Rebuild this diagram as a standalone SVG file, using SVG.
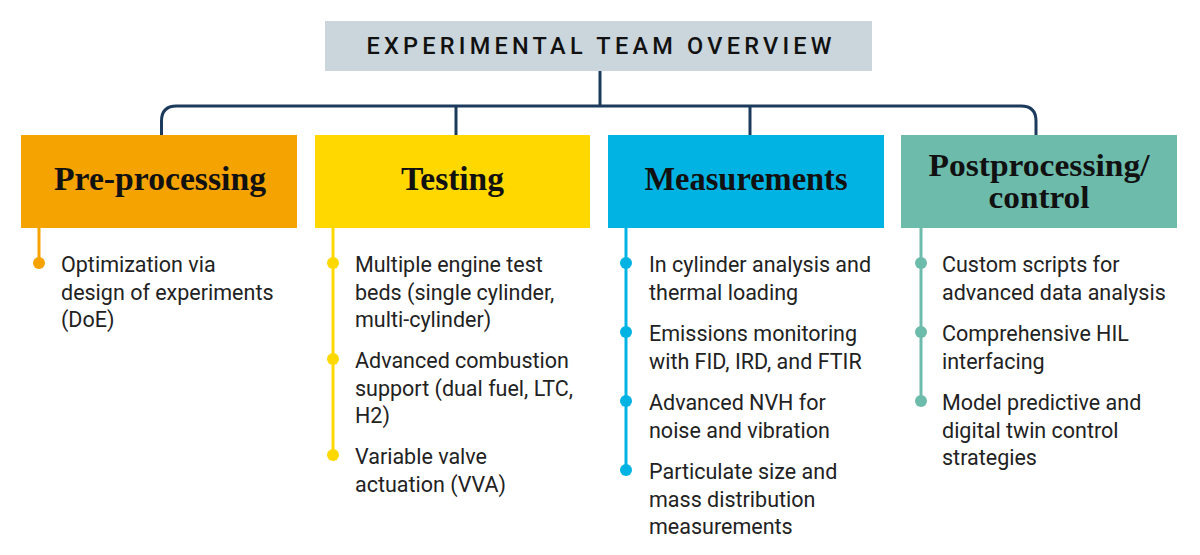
<svg xmlns="http://www.w3.org/2000/svg" width="1200" height="555" viewBox="0 0 1200 555">
<style>
.h{font-family:"Liberation Serif","DejaVu Serif",serif;font-weight:bold;font-size:34px;fill:#111;text-anchor:middle}
.h2{font-size:31px}
.t{font-family:Roboto,"Liberation Sans",sans-serif;font-size:21.5px;fill:#222}
.c{fill:none;stroke:#1B3A5C;stroke-width:3}
</style>
<rect width="1200" height="555" fill="#fff"/>
<g id="title">
<rect x="325" y="21" width="547" height="50" fill="#CBD5DC"/>
<text x="599" y="54" text-anchor="middle" textLength="465" lengthAdjust="spacing" style="font-family:Roboto,'Liberation Sans',sans-serif;font-weight:500;font-size:23.5px;fill:#111">EXPERIMENTAL TEAM OVERVIEW</text>
</g>
<g id="connectors">
<line class="c" x1="600" y1="71" x2="600" y2="106"/>
<path class="c" d="M161.5 135 V121 Q161.5 106 176.5 106 H1021 Q1036 106 1036 121 V135"/>
<line class="c" x1="456" y1="106" x2="456" y2="135"/>
<line class="c" x1="750" y1="106" x2="750" y2="135"/>
</g>
<g id="pre">
<rect x="21" y="135" width="276" height="93" fill="#F5A300"/>
<text class="h" x="160" y="190" textLength="212" lengthAdjust="spacingAndGlyphs">Pre-processing</text>
<g fill="#F5A300"><rect x="37.5" y="228" width="3" height="35"/><circle cx="39" cy="263" r="6"/></g>
<text class="t"><tspan x="61" y="272">Optimization via</tspan><tspan x="61" y="299.5">design of experiments</tspan><tspan x="61" y="327">(DoE)</tspan></text>
</g>
<g id="testing">
<rect x="315" y="135" width="275" height="93" fill="#FFD800"/>
<text class="h" x="452.5" y="190" textLength="103" lengthAdjust="spacingAndGlyphs">Testing</text>
<g fill="#FFD800"><rect x="331.5" y="228" width="3" height="227"/><circle cx="333" cy="263" r="6"/><circle cx="333" cy="359" r="6"/><circle cx="333" cy="455" r="6"/></g>
<text class="t"><tspan x="355" y="272">Multiple engine test</tspan><tspan x="355" y="299.5">beds (single cylinder,</tspan><tspan x="355" y="327">multi-cylinder)</tspan><tspan x="355" y="368">Advanced combustion</tspan><tspan x="355" y="395.5">support (dual fuel, LTC,</tspan><tspan x="355" y="423">H2)</tspan><tspan x="355" y="464">Variable valve</tspan><tspan x="355" y="491.5">actuation (VVA)</tspan></text>
</g>
<g id="measurements">
<rect x="608" y="135" width="276" height="93" fill="#00B3E3"/>
<text class="h" x="746" y="190" textLength="203" lengthAdjust="spacingAndGlyphs">Measurements</text>
<g fill="#00B3E3"><rect x="624.5" y="228" width="3" height="242"/><circle cx="626" cy="263" r="6"/><circle cx="626" cy="332" r="6"/><circle cx="626" cy="401" r="6"/><circle cx="626" cy="470" r="6"/></g>
<text class="t"><tspan x="649" y="272">In cylinder analysis and</tspan><tspan x="649" y="299.5">thermal loading</tspan><tspan x="649" y="341">Emissions monitoring</tspan><tspan x="649" y="368.5">with FID, IRD, and FTIR</tspan><tspan x="649" y="410">Advanced NVH for</tspan><tspan x="649" y="437.5">noise and vibration</tspan><tspan x="649" y="479">Particulate size and</tspan><tspan x="649" y="506.5">mass distribution</tspan><tspan x="649" y="534">measurements</tspan></text>
</g>
<g id="post">
<rect x="901" y="135" width="276" height="93" fill="#6DBBAB"/>
<text class="h h2" x="1039" y="176" textLength="221" lengthAdjust="spacingAndGlyphs">Postprocessing/</text>
<text class="h h2" x="1039" y="208" textLength="101" lengthAdjust="spacingAndGlyphs">control</text>
<g fill="#6DBBAB"><rect x="919.5" y="228" width="3" height="173"/><circle cx="921" cy="263" r="6"/><circle cx="921" cy="332" r="6"/><circle cx="921" cy="401" r="6"/></g>
<text class="t"><tspan x="942" y="272">Custom scripts for</tspan><tspan x="942" y="299.5">advanced data analysis</tspan><tspan x="942" y="341">Comprehensive HIL</tspan><tspan x="942" y="368.5">interfacing</tspan><tspan x="942" y="410">Model predictive and</tspan><tspan x="942" y="437.5">digital twin control</tspan><tspan x="942" y="465">strategies</tspan></text>
</g>
</svg>
